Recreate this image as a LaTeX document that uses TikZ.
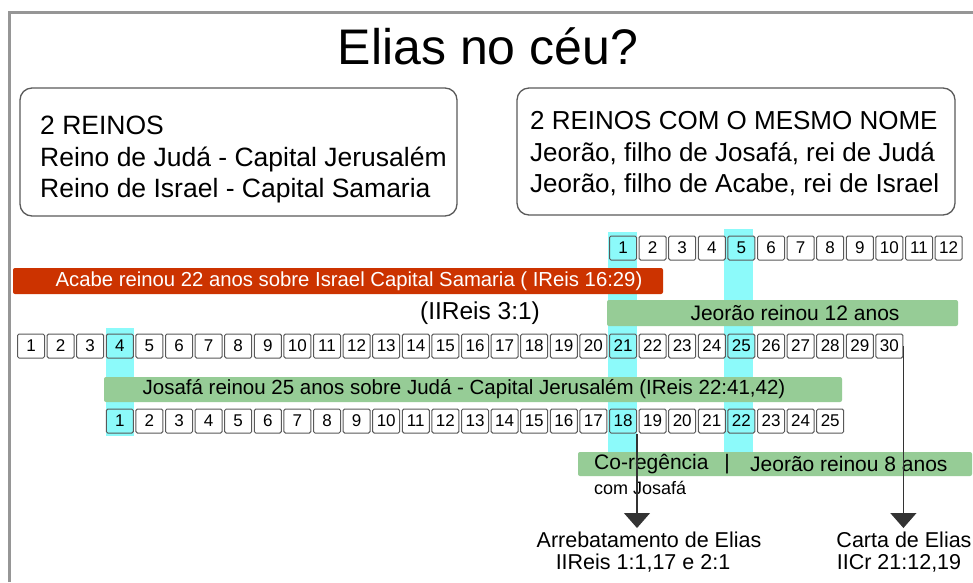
\documentclass[tikz,border=0pt]{standalone}
\usepackage{fontspec}
\setmainfont{Liberation Sans}
\usetikzlibrary{arrows.meta}
\definecolor{acabered}{RGB}{204,51,0}
\definecolor{reigngreen}{RGB}{150,204,150}
\definecolor{hicyan}{RGB}{140,250,250}
\definecolor{framegray}{RGB}{150,150,150}
\definecolor{boxline}{RGB}{90,90,90}
\begin{document}
\begin{tikzpicture}[x=1pt,y=-1pt,
  cell/.style={draw=black!65, line width=1pt, fill=white, rounded corners=1.5pt,
    minimum width=27pt, minimum height=24pt, inner sep=0pt, font=\fontsize{17}{17}\selectfont},
  hicell/.style={cell, fill=hicyan},
  bar/.style={inner sep=0pt, rounded corners=2pt},
  bartext/.style={inner sep=0pt, font=\fontsize{21}{21}\selectfont},
  infobox/.style={draw=boxline, line width=1.3pt, rounded corners=12pt},
  boxtext/.style={inner sep=0pt, anchor=base west, font=\fontsize{26.5}{26.5}\selectfont},
  reftext/.style={inner sep=0pt, font=\fontsize{21.5}{21.5}\selectfont},
  pointer/.style={draw=black!80, line width=1.2pt, -{Triangle[width=26pt,length=15pt]}},
  column/.style={fill=hicyan, draw=none}
]
\useasboundingbox (0,0) rectangle (973,582);
\fill[white] (0,0) rectangle (973,582);
% frame
\draw[framegray, line width=3pt] (9,582) -- (9,12) -- (973,12);
% title
\node[inner sep=0pt, font=\fontsize{50}{50}\selectfont] (title) at (488,46) {Elias no céu?};
% info boxes
\draw[infobox] (20,88) rectangle (457,216);
\draw[infobox] (517,88) rectangle (955,215);
\node[boxtext] (l1) at (40,134) {2 REINOS};
\node[boxtext] (l2) at (40,166) {Reino de Judá - Capital Jerusalém};
\node[boxtext] (l3) at (40,197) {Reino de Israel - Capital Samaria};
\node[boxtext, font=\fontsize{26}{26}\selectfont] (r1) at (530,129) {2 REINOS COM O MESMO NOME};
\node[boxtext, font=\fontsize{26}{26}\selectfont] (r2) at (530,161) {Jeorão, filho de Josafá, rei de Judá};
\node[boxtext, font=\fontsize{26}{26}\selectfont] (r3) at (530,192) {Jeorão, filho de Acabe, rei de Israel};
% cyan columns
\fill[column] (106,328) rectangle (134,436);
\fill[column] (608,232) rectangle (637,452);
\fill[column] (724,229) rectangle (753,452);
% top row 1..12
\foreach \k in {1,...,12}{
  \def\st{cell}
  \ifnum\k=1 \def\st{hicell}\fi
  \ifnum\k=5 \def\st{hicell}\fi
  \node[\st] (t\k) at ({609+(\k-1)*29.6+14},248) {\k};
}
% main row 1..30
\foreach \k in {1,...,30}{
  \def\st{cell}
  \ifnum\k=4 \def\st{hicell}\fi
  \ifnum\k=21 \def\st{hicell}\fi
  \ifnum\k=25 \def\st{hicell}\fi
  \node[\st] (m\k) at ({17+(\k-1)*29.6+14},346) {\k};
}
% Juda row 1..25
\foreach \k in {1,...,25}{
  \def\st{cell}
  \ifnum\k=1 \def\st{hicell}\fi
  \ifnum\k=18 \def\st{hicell}\fi
  \ifnum\k=22 \def\st{hicell}\fi
  \node[\st] (j\k) at ({105.8+(\k-1)*29.6+14},421) {\k};
}
% bars
\node[bar, fill=acabered, minimum width=650pt, minimum height=26pt] (acabe) at (338,281) {};
\node[bartext, text=white, font=\fontsize{20.3}{20.3}\selectfont] (acabetxt) at (349,281) {Acabe reinou 22 anos sobre Israel Capital Samaria ( IReis 16:29)};
\node[bar, fill=reigngreen, minimum width=351pt, minimum height=26pt] (jeo12) at (782.5,313) {};
\node[bartext] (jeo12txt) at (795,313) {Jeorão reinou 12 anos};
\node[inner sep=0pt, font=\fontsize{24.5}{24.5}\selectfont] (ref31) at (480,313) {(IIReis 3:1)};
\node[bar, fill=reigngreen, minimum width=738pt, minimum height=25pt] (josafa) at (473,389.5) {};
\node[bartext, font=\fontsize{20.5}{20.5}\selectfont] (josafatxt) at (464,389.5) {Josafá reinou 25 anos sobre Judá - Capital Jerusalém (IReis 22:41,42)};
\node[bar, fill=reigngreen, minimum width=394pt, minimum height=24pt] (jeo8) at (775,464) {};
\node[bartext, anchor=west] (coreg) at (594,464) {Co-regência};
\node[bartext] (sep) at (727,464) {|};
\node[bartext, anchor=west] (jeo8txt) at (750,464) {Jeorão reinou 8 anos};
\node[inner sep=0pt, anchor=west, font=\fontsize{18}{18}\selectfont] (comjos) at (594,488) {com Josafá};
% arrows
\coordinate (tip1) at (j18.south east |- 0,528);
\coordinate (tip2) at (m30.east |- 0,528);
\draw[pointer] (j18.south east) -- (tip1);
\draw[pointer] (m30.east) -- (tip2);
\node[reftext] (arr) at (649,540) {Arrebatamento de Elias};
\node[reftext] (arrref) at (643,563) {IIReis 1:1,17 e 2:1};
\node[reftext] (carta) at (904,540) {Carta de Elias};
\node[reftext] (cartaref) at (899,563) {IICr 21:12,19};
\end{tikzpicture}
\end{document}
